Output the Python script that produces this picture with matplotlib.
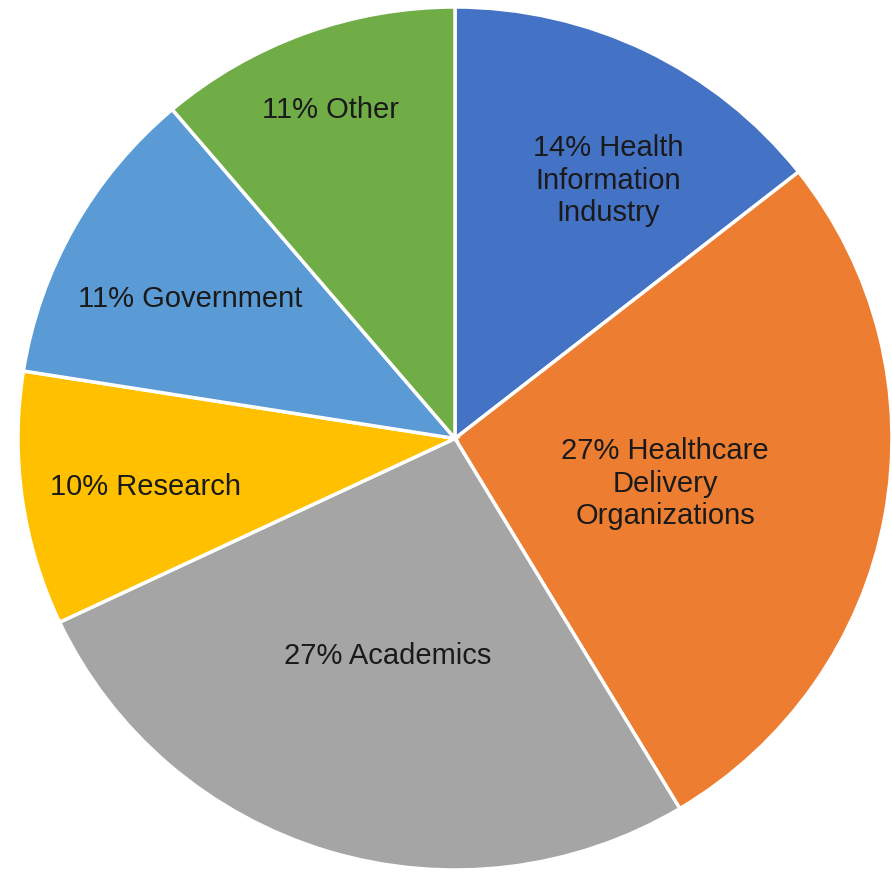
import matplotlib
matplotlib.use("Agg")
import matplotlib.pyplot as plt

categories = ["Health\nInformation\nIndustry", "Healthcare\nDelivery\nOrganizations",
              "Academics", "Research", "Government", "Other"]
pct_labels = ["14%", "27%", "27%", "10%", "11%", "11%"]
values = [14.4, 27.0, 26.6, 9.5, 11.3, 11.2]
colors = ["#4472C4", "#ED7D31", "#A5A5A5", "#FFC000", "#5B9BD5", "#70AD47"]

# label anchor positions in pie-radius units (layout, not data)
label_pos = [(0.350, 0.597), (0.481, -0.105), (-0.153, -0.504),
             (-0.709, -0.112), (-0.606, 0.323), (-0.286, 0.761)]

fig = plt.figure(figsize=(8.92, 8.80), dpi=100)
ax = fig.add_axes([18/892, 10/880, 874/892, 863/880])
wedges, _ = ax.pie(values, colors=colors, startangle=90, counterclock=False,
                   radius=1.0, wedgeprops=dict(edgecolor="white", linewidth=2.5))
ax.set_aspect("auto")
ax.set_xlim(-1, 1)
ax.set_ylim(-1, 1)
ax.axis("off")

for cat, p, (x, y) in zip(categories, pct_labels, label_pos):
    ax.text(x, y, f"{p} {cat}", ha="center", va="center", fontsize=21,
            family="Liberation Sans", color="#1a1a1a", linespacing=1.2)

fig.savefig("out.png", dpi=100)
